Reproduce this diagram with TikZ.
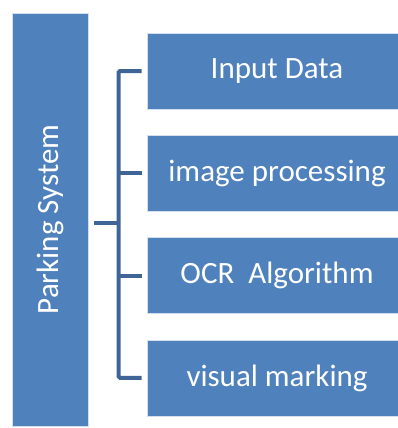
\documentclass[tikz,border=0pt]{standalone}
\usepackage{fontspec}
\setmainfont{Carlito}
\usetikzlibrary{positioning}
\definecolor{boxfill}{RGB}{79,129,189}
\definecolor{linecol}{RGB}{62,101,150}

\begin{document}
\begin{tikzpicture}[x=1pt, y=1pt, node distance = 25.5pt, auto]
\tikzstyle{block} = [rectangle, draw=white!75!boxfill, line width=0.8pt, fill=boxfill, text=white,
    font=\fontsize{31}{37}\selectfont, minimum width=260pt, minimum height=76pt, inner sep=0pt]
\tikzstyle{line} = [draw=linecol, line width=4pt, rounded corners=1.5pt]
    \useasboundingbox (0,0) rectangle (398,-428);

    % Place nodes
    \node [block, rotate=90, minimum width=413pt, minimum height=75.5pt] (system) at (50.5,-219.5) {Parking System};
    \node [block] (input) at (277,-71) {Input Data};
    \node [block, below=of input] (proc) {image processing};
    \node [block, below=of proc] (ocr) {OCR\ \ Algorithm};
    \node [block, below=of ocr] (mark) {visual marking};
    \coordinate (hub) at (118.5,-223);

%paths
    \path [line] ([xshift=5.5pt]system.south |- hub) -- (hub);
    \path [line] ([xshift=-5pt]input.west) -- (input.west -| hub) -- (mark.west -| hub) -- ([xshift=-5pt]mark.west);
    \path [line] ([xshift=-5pt]proc.west) -- (proc.west -| hub);
    \path [line] ([xshift=-5pt]ocr.west) -- (ocr.west -| hub);

\end{tikzpicture}
\end{document}
